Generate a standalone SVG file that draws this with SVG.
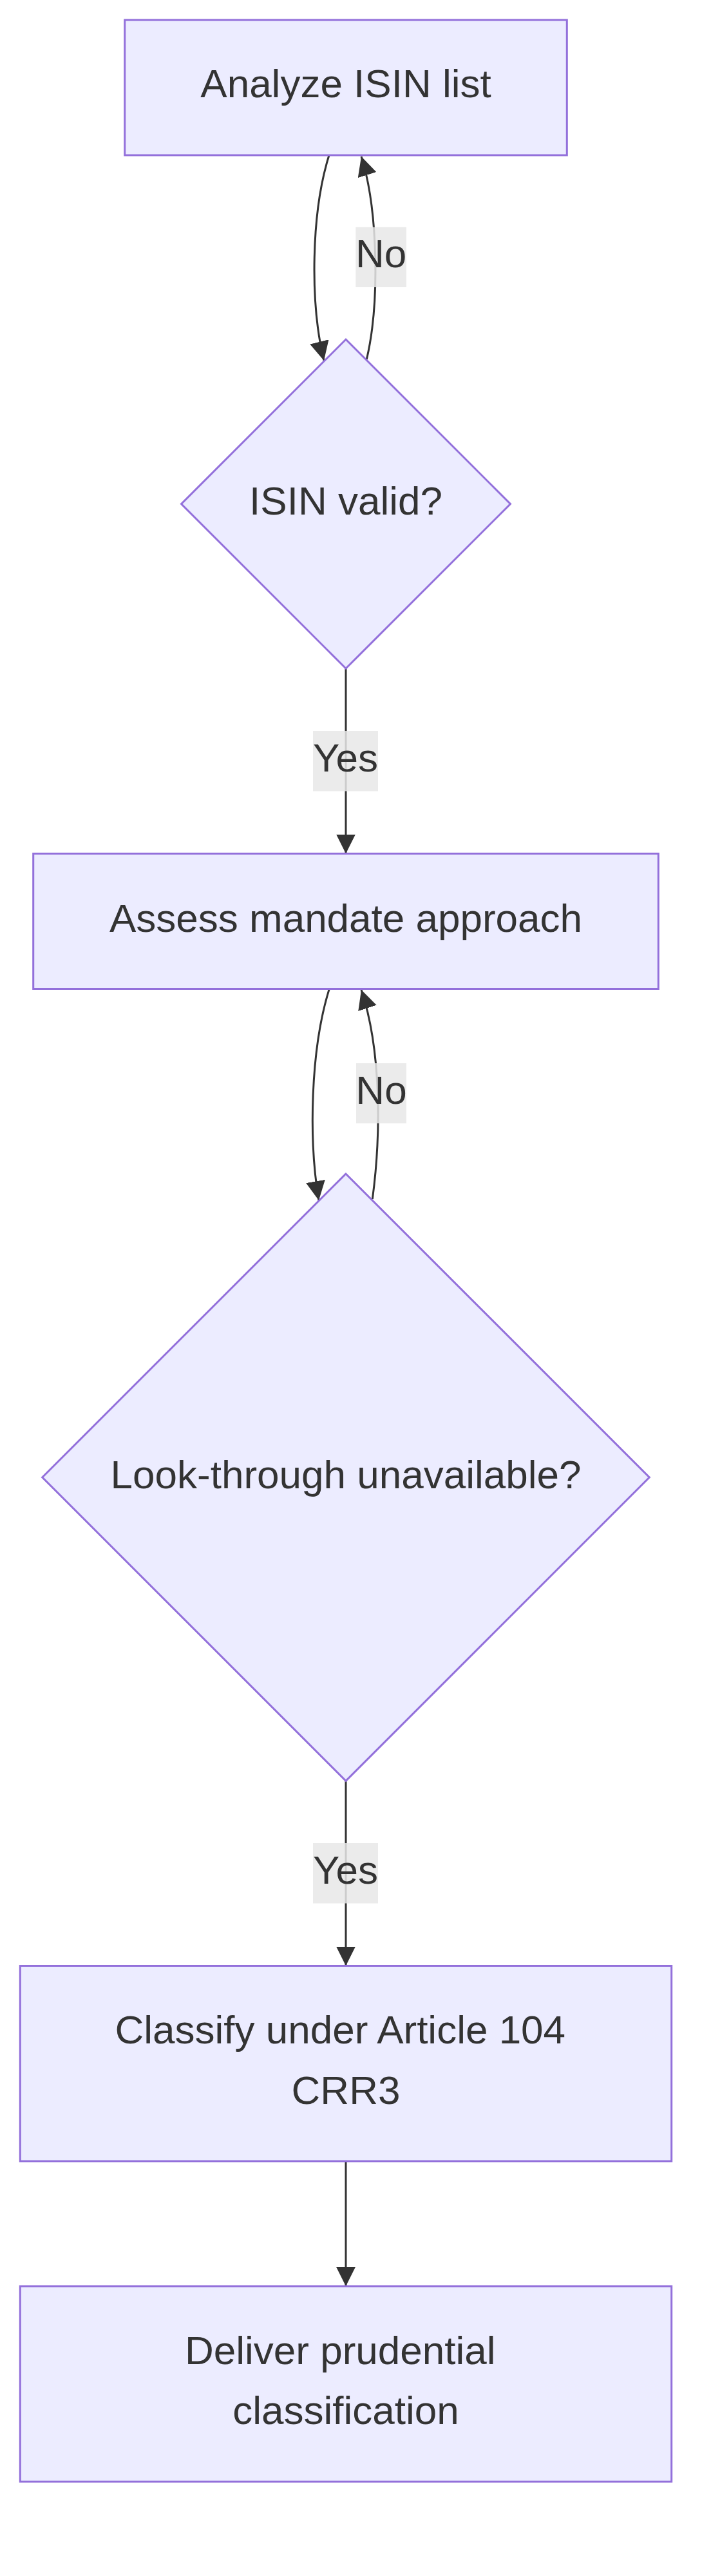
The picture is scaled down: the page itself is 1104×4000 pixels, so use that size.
<svg xmlns="http://www.w3.org/2000/svg" width="1104" height="4000" viewBox="0 0 1104 4000">
  <style>
    .node { fill: #ECECFF; stroke: #9370DB; stroke-width: 3; }
    .label { font-family: "Liberation Sans", Arial, sans-serif; font-size: 62px; fill: #333333; text-anchor: middle; }
    .edge { fill: none; stroke: #333333; stroke-width: 3; }
    .elbg { fill: #e8e8e8; fill-opacity: 0.85; }
  </style>
  <defs>
    <marker id="arrow" viewBox="0 0 10 10" refX="10" refY="5" markerUnits="userSpaceOnUse" markerWidth="30" markerHeight="30" orient="auto">
      <path d="M0,0 L10,5 L0,10 z" fill="#333333"/>
    </marker>
  </defs>
  <rect x="0" y="0" width="1104" height="4000" fill="#ffffff"/>

  <g id="edges">
    <path class="edge" d="M511,241 C483,330 481,470 503,560" marker-end="url(#arrow)"/>
    <path class="edge" d="M569.3,558 C590,470 587,325 561,243" marker-end="url(#arrow)"/>
    <path class="edge" d="M537,1038 L537,1325.5" marker-end="url(#arrow)"/>
    <path class="edge" d="M511,1536.5 C482,1630 479,1770 495,1864" marker-end="url(#arrow)"/>
    <path class="edge" d="M578.3,1862 C592,1760 592,1630 561,1537" marker-end="url(#arrow)"/>
    <path class="edge" d="M537,2765.3 L537,3052.5" marker-end="url(#arrow)"/>
    <path class="edge" d="M537,3355.9 L537,3550" marker-end="url(#arrow)"/>
  </g>

  <g id="node-analyze">
    <rect class="node" x="193.7" y="31" width="686.6" height="210"/>
    <text class="label" x="537" y="151">Analyze ISIN list</text>
  </g>

  <g id="node-isin-valid">
    <polygon class="node" points="537,527 792.5,782.5 537,1038 281.5,782.5"/>
    <text class="label" x="537" y="798.5">ISIN valid?</text>
  </g>

  <g id="node-assess">
    <rect class="node" x="51.7" y="1325.5" width="970.6" height="210"/>
    <text class="label" x="537" y="1447">Assess mandate approach</text>
  </g>

  <g id="node-lookthrough">
    <polygon class="node" points="537,1822.7 1008.3,2294 537,2765.3 65.7,2294"/>
    <text class="label" x="537" y="2310.5">Look-through unavailable?</text>
  </g>

  <g id="node-classify">
    <rect class="node" x="31.3" y="3052.5" width="1011.4" height="303.4"/>
    <text class="label" x="528.3" y="3173.3">Classify under Article 104</text>
    <text class="label" x="537" y="3266.7">CRR3</text>
  </g>

  <g id="node-deliver">
    <rect class="node" x="31.3" y="3550" width="1011.4" height="303.4"/>
    <text class="label" x="528.3" y="3671">Deliver prudential</text>
    <text class="label" x="537" y="3764">classification</text>
  </g>

  <g id="edge-labels">
    <g id="label-no-1">
      <rect class="elbg" x="552.3" y="352.7" width="78.7" height="93.3"/>
      <text class="label" x="591.6" y="415">No</text>
    </g>
    <g id="label-yes-1">
      <rect class="elbg" x="486" y="1135" width="101" height="93.5"/>
      <text class="label" x="536.5" y="1198.3">Yes</text>
    </g>
    <g id="label-no-2">
      <rect class="elbg" x="553" y="1651" width="78" height="93.3"/>
      <text class="label" x="592" y="1714.3">No</text>
    </g>
    <g id="label-yes-2">
      <rect class="elbg" x="486" y="2862" width="101" height="93.5"/>
      <text class="label" x="536.5" y="2924.7">Yes</text>
    </g>
  </g>
</svg>
